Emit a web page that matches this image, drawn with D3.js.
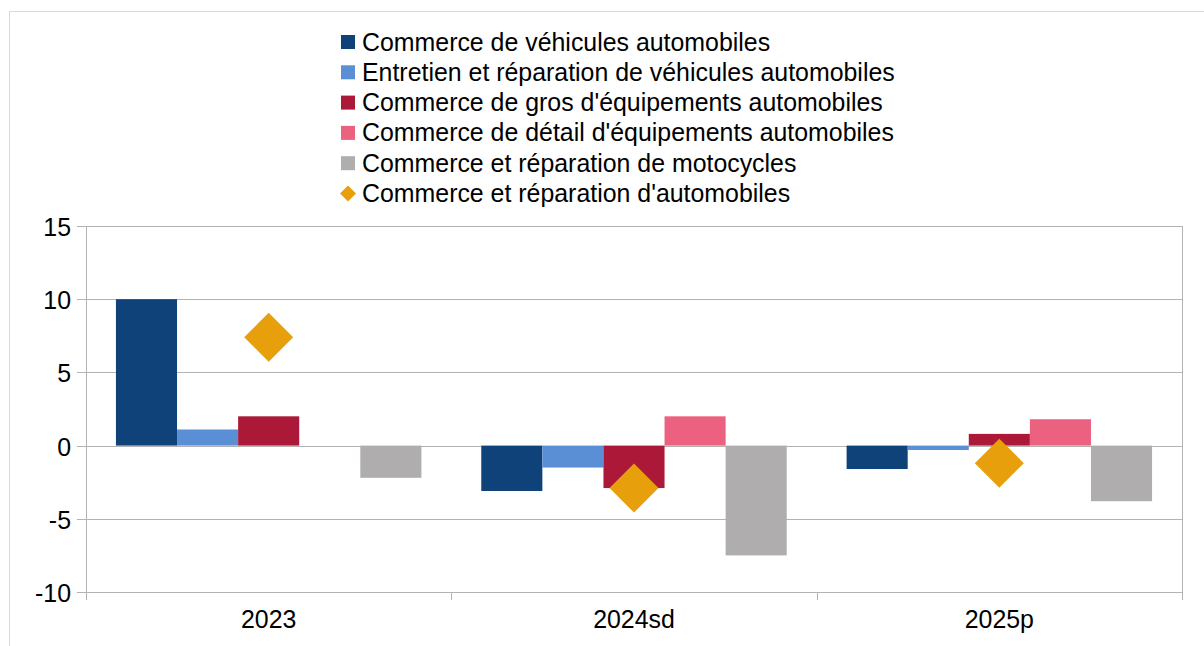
<!DOCTYPE html>
<meta charset="utf-8">
<head>
    <title>Commerce automobile</title>
    <style>
        body { margin: 0; background: #fff; }
        text { font-family: "Liberation Sans", Arial, sans-serif; }
    </style>
</head>
<body>
    <svg width="1204" height="646"></svg>
    <script src="https://cdn.jsdelivr.net/npm/d3@7"></script>
    <script>
        // data
        var years = ["2023", "2024sd", "2025p"];
        var seriesNames = [
            "Commerce de véhicules automobiles",
            "Entretien et réparation de véhicules automobiles",
            "Commerce de gros d'équipements automobiles",
            "Commerce de détail d'équipements automobiles",
            "Commerce et réparation de motocycles"
        ];
        var seriesColors = ["#10427a", "#5b8fd5", "#ab1838", "#ec6180", "#afadae"];
        var vehicules = [10.0, -3.1, -1.6];
        var entretien = [1.1, -1.5, -0.3];
        var gros = [2.0, -2.9, 0.8];
        var detail = [0, 2.0, 1.8];
        var motocycles = [-2.2, -7.5, -3.8];
        var totalName = "Commerce et réparation d'automobiles";
        var totalColor = "#e89f0c";
        var total = [7.4, -2.9, -1.2];
        var yTicks = [-10, -5, 0, 5, 10, 15];

        var barValues = [vehicules, entretien, gros, detail, motocycles];

        var svg = d3.select("svg");
        var fontSize = 24.9;

        // outer frame
        svg.append("rect")
            .attr("x", 9.5).attr("y", 11.5)
            .attr("width", 1220).attr("height", 660)
            .attr("fill", "none")
            .attr("stroke", "#d9d9d9");

        var plotLeft = 86, plotRight = 1182, plotTop = 226, plotBottom = 592;

        var x = d3.scaleBand().domain(years).range([plotLeft, plotRight]).padding(0);
        var xs = d3.scaleBand().domain(d3.range(seriesNames.length))
            .range([0, x.bandwidth()]).paddingInner(0).paddingOuter(0.49);
        var y = d3.scaleLinear().domain([-10, 15]).range([plotBottom, plotTop]);

        // gridlines
        svg.append("g").selectAll("line")
            .data(yTicks)
            .enter().append("line")
            .attr("x1", plotLeft).attr("x2", plotRight)
            .attr("y1", function(d) { return Math.round(y(d)) + 0.5; })
            .attr("y2", function(d) { return Math.round(y(d)) + 0.5; })
            .attr("stroke", "#b3b3b3");

        // y axis line + right border
        svg.append("line")
            .attr("x1", plotLeft + 0.5).attr("x2", plotLeft + 0.5)
            .attr("y1", plotTop).attr("y2", plotBottom + 8)
            .attr("stroke", "#b3b3b3");
        svg.append("line")
            .attr("x1", plotRight + 0.5).attr("x2", plotRight + 0.5)
            .attr("y1", plotTop).attr("y2", plotBottom + 8)
            .attr("stroke", "#b3b3b3");

        // y ticks + labels
        var yAxis = svg.append("g");
        yTicks.forEach(function(t) {
            var yy = Math.round(y(t)) + 0.5;
            yAxis.append("line")
                .attr("x1", plotLeft - 9).attr("x2", plotLeft)
                .attr("y1", yy).attr("y2", yy)
                .attr("stroke", "#b3b3b3");
            yAxis.append("text")
                .attr("x", 71).attr("y", yy + 9)
                .attr("text-anchor", "end")
                .attr("font-size", fontSize)
                .attr("fill", "#000")
                .text(t);
        });

        // x ticks at category boundaries
        var bounds = years.map(function(d) { return x(d); }).concat([plotRight]);
        svg.append("g").selectAll("line")
            .data(bounds)
            .enter().append("line")
            .attr("x1", function(d) { return Math.round(d) + 0.5; })
            .attr("x2", function(d) { return Math.round(d) + 0.5; })
            .attr("y1", plotBottom).attr("y2", plotBottom + 8)
            .attr("stroke", "#b3b3b3");

        svg.append("g").selectAll("text")
            .data(years)
            .enter().append("text")
            .attr("x", function(d) { return x(d) + x.bandwidth() / 2; })
            .attr("y", 628)
            .attr("text-anchor", "middle")
            .attr("font-size", fontSize)
            .text(function(d) { return d; });

        // bars
        barValues.forEach(function(vals, s) {
            svg.append("g").selectAll("rect")
                .data(vals)
                .enter().append("rect")
                .attr("x", function(d, i) { return x(years[i]) + xs(s); })
                .attr("width", xs.bandwidth())
                .attr("y", function(d) { return y(Math.max(0, d)); })
                .attr("height", function(d) { return Math.abs(y(d) - y(0)); })
                .attr("fill", seriesColors[s]);
        });

        // diamonds for the total
        var half = 24.5;
        svg.append("g").selectAll("path")
            .data(total)
            .enter().append("path")
            .attr("d", function(d, i) {
                var cx = x(years[i]) + x.bandwidth() / 2, cy = y(d);
                return "M" + cx + "," + (cy - half) + "L" + (cx + half) + "," + cy +
                    "L" + cx + "," + (cy + half) + "L" + (cx - half) + "," + cy + "Z";
            })
            .attr("fill", totalColor);

        // legend
        var legend = svg.append("g").attr("transform", "translate(341, 42)");
        seriesNames.forEach(function(name, i) {
            legend.append("rect")
                .attr("x", 0).attr("y", i * 30.3 - 7)
                .attr("width", 14).attr("height", 14)
                .attr("fill", seriesColors[i]);
            legend.append("text")
                .attr("x", 21).attr("y", i * 30.3 + 8.5)
                .attr("font-size", fontSize)
                .text(name);
        });
        var ly = 5 * 30.3;
        legend.append("path")
            .attr("d", "M7," + (ly - 8) + "L15," + ly + "L7," + (ly + 8) + "L-1," + ly + "Z")
            .attr("fill", totalColor);
        legend.append("text")
            .attr("x", 21).attr("y", ly + 8.5)
            .attr("font-size", fontSize)
            .text(totalName);
    </script>
</body>
